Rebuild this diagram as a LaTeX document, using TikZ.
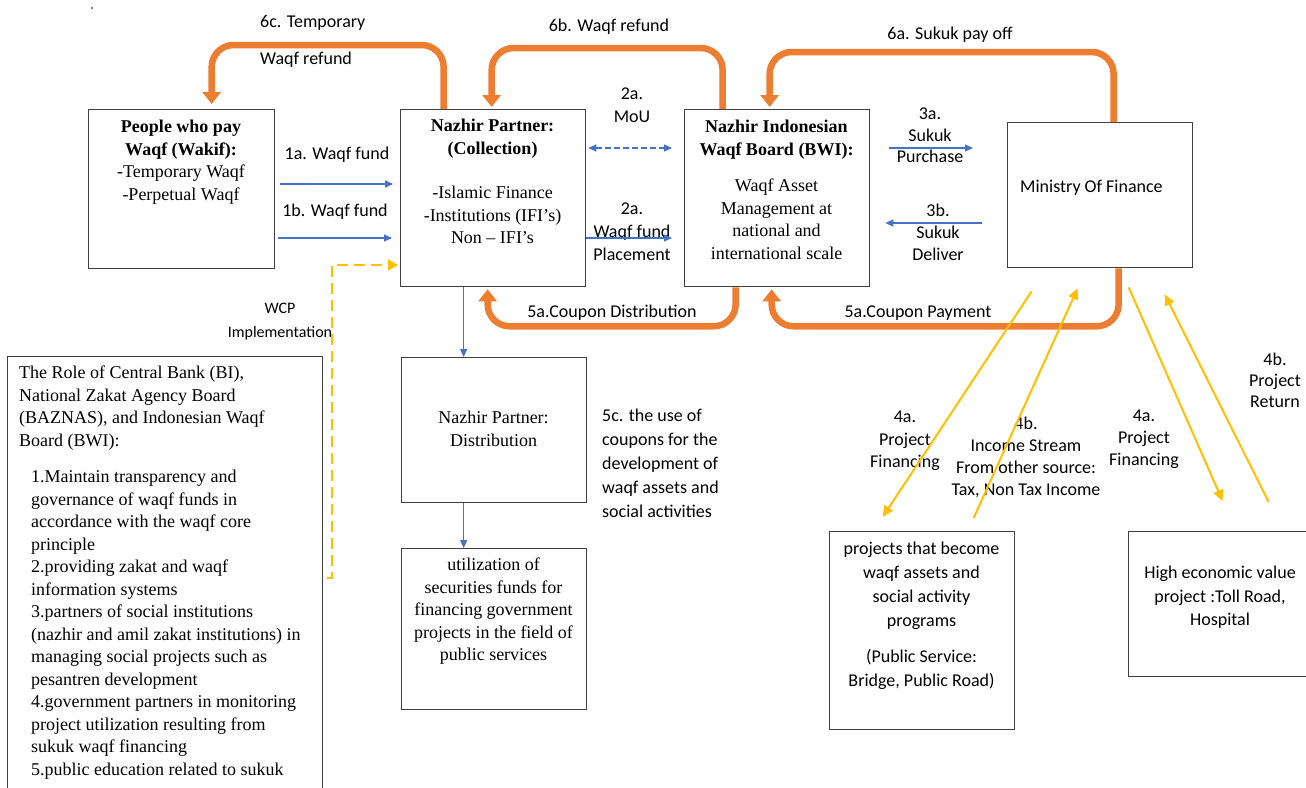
\documentclass[tikz,border=0pt]{standalone}
\usepackage{fontspec}
\setmainfont{Liberation Serif}
\newfontfamily\calibri{Carlito}
\usetikzlibrary{arrows.meta,calc}
\definecolor{worange}{HTML}{ED7D31}
\definecolor{wblue}{HTML}{4472C4}
\definecolor{wyellow}{HTML}{FFC000}
\begin{document}
\begin{tikzpicture}[x=1pt,y=-1pt,
  box/.style={draw=black!75,line width=1.3pt,inner sep=0pt,anchor=north west},
  tms/.style={font=\fontsize{18}{22.5}\selectfont, inner sep=0pt, anchor=north, align=center},
  cal/.style={font=\calibri\fontsize{18}{22.5}\selectfont, inner sep=0pt, anchor=north, align=center},
  calc1/.style={font=\calibri\fontsize{18}{22}\selectfont, inner sep=0pt, anchor=center},
  oarrow/.style={draw=worange, line width=6.5pt, rounded corners=22pt, -{Triangle[width=18pt,length=12pt]}},
  barrow/.style={draw=wblue, line width=1.1pt, -{Triangle[width=7pt,length=8pt]}},
  bdash/.style={draw=wblue, line width=1.1pt, dash pattern=on 6pt off 3pt, {Triangle[width=7pt,length=8pt]}-{Triangle[width=7pt,length=8pt]}},
  yarrow/.style={draw=wyellow, line width=2pt, -{Triangle[width=10pt,length=11pt]}},
  ydash/.style={draw=wyellow, line width=2.8pt, dash pattern=on 11pt off 6pt, -{Triangle[width=11pt,length=10pt]}},
]
\useasboundingbox (0,0) rectangle (1306,787);
\fill[white] (0,0) rectangle (1306,787);
\clip (0,0) rectangle (1306,787);
\fill (92,8) circle (0.8);

% boxes
\node[box, minimum width=186pt, minimum height=159pt] (wakif) at (88,109) {};
\node[box, minimum width=185pt, minimum height=177pt] (coll) at (400,109) {};
\node[box, minimum width=185pt, minimum height=177pt] (bwi) at (684,109) {};
\node[box, minimum width=185pt, minimum height=145pt] (minis) at (1007,122) {};
\node[box, minimum width=185pt, minimum height=145pt] (dist) at (401,357) {};
\node[box, minimum width=185pt, minimum height=161pt] (util) at (401,548) {};
\node[box, minimum width=315pt, minimum height=440pt] (role) at (7,356) {};
\node[box, minimum width=185pt, minimum height=198pt] (proj) at (829,531) {};
\node[box, minimum width=185pt, minimum height=145pt] (high) at (1128,531) {};

% box texts
\node[tms] (wakiftxt) at (181,120) {\textbf{People who pay}\\\textbf{Waqf (Wakif):}\\-Temporary Waqf\\-Perpetual Waqf};
\node[tms] (colltxt) at (492.5,119) {\textbf{Nazhir Partner:}\\\textbf{(Collection)}\\[22pt]-Islamic Finance\\-Institutions (IFI’s)\\Non – IFI’s};
\node[tms] (bwitxt) at (776.5,120) {\textbf{Nazhir Indonesian}\\\textbf{Waqf Board (BWI):}\\[14pt]Waqf Asset\\Management at\\national and\\international scale};
\node[calc1, anchor=west] (ministxt) at (1020,188) {Ministry Of Finance};
\node[tms] (disttxt) at (493.5,411) {Nazhir Partner:\\Distribution};
\node[tms] (utiltxt) at (493.5,558) {utilization of\\securities funds for\\financing government\\projects in the field of\\public services};
\node[tms, anchor=north west, align=left] (roletitle) at (19,366) {The Role of Central Bank (BI),\\National Zakat Agency Board\\(BAZNAS), and Indonesian Waqf\\Board (BWI):};
\node[tms, anchor=north west, align=left] (rolelist) at (31,470) {1.Maintain transparency and\\governance of waqf funds in\\accordance with the waqf core\\principle\\2.providing zakat and waqf\\information systems\\3.partners of social institutions\\(nazhir and amil zakat institutions) in\\managing social projects such as\\pesantren development\\4.government partners in monitoring\\project utilization resulting from\\sukuk waqf financing\\5.public education related to sukuk};
\node[cal, font=\calibri\fontsize{18}{24}\selectfont] (projtxt) at (921.5,542) {projects that become\\waqf assets and\\social activity\\programs\\[12pt](Public Service:\\Bridge, Public Road)};
\node[cal, font=\calibri\fontsize{18}{23.5}\selectfont] (hightxt) at (1220,566) {High economic value\\project :Toll Road,\\Hospital};

% labels
\node[cal, anchor=north west, align=left, font=\calibri\fontsize{18}{37}\selectfont] (l6c) at (260,15) {6c. Temporary\\Waqf refund};
\node[calc1] (l6b) at (609,27) {6b. Waqf refund};
\node[calc1] (l6a) at (950,35) {6a. Sukuk pay off};
\node[cal, font=\calibri\fontsize{18}{23}\selectfont] (l2a) at (632,88) {2a.\\MoU};
\node[cal, font=\calibri\fontsize{18}{23}\selectfont] (l2b) at (632,203) {2a.\\Waqf fund\\Placement};
\node[calc1] (l1a) at (337,155) {1a. Waqf fund};
\node[calc1] (l1b) at (335,212) {1b. Waqf fund};
\node[cal, font=\calibri\fontsize{18}{21.5}\selectfont] (l3a) at (930,108) {3a.\\Sukuk\\Purchase};
\node[cal, font=\calibri\fontsize{18}{22}\selectfont] (l3b) at (938,204) {3b.\\Sukuk\\Deliver};
\node[cal, font=\calibri\fontsize{16}{24}\selectfont] (lwcp) at (280,303) {WCP\\Implementation};
\node[calc1] (l5a) at (612,313) {5a.Coupon Distribution};
\node[calc1] (l5b) at (918,313) {5a.Coupon Payment};
\node[cal, anchor=north west, align=left, font=\calibri\fontsize{18}{24}\selectfont] (l5c) at (602,409) {5c. the use of\\coupons for the\\development of\\waqf assets and\\social activities};
\node[cal] (l4a) at (905,411) {4a.\\Project\\Financing};
\node[cal, font=\calibri\fontsize{18}{22}\selectfont] (l4b) at (1026,417) {4b.\\Income Stream\\From other source:\\Tax, Non Tax Income};
\node[cal, font=\calibri\fontsize{18}{22}\selectfont] (l4c) at (1144,410) {4a.\\Project\\Financing};
\node[cal, font=\calibri\fontsize{18}{21}\selectfont] (l4d) at (1275,353) {4b.\\Project\\Return};

% blue connectors
\draw[barrow] ($(wakif.north east)+(5,75)$) -- ($(coll.north west)+(-7,75)$);
\draw[barrow] ($(wakif.north east)+(3,129)$) -- ($(coll.north west)+(-8,129)$);
\draw[bdash] ($(coll.north east)+(2,39)$) -- ($(bwi.north west)+(-12,39)$);
\draw[barrow] ($(coll.north east)+(0,129)$) -- ($(bwi.north west)+(-12,129)$);
\draw[barrow] ($(bwi.north east)+(19,39)$) -- ($(minis.north west)+(-34,26)$);
\draw[barrow] ($(minis.north west)+(-25,101)$) -- ($(bwi.north east)+(15,114)$);
\draw[barrow] ([xshift=-29.5pt]coll.south) -- ([xshift=-30.5pt]dist.north);
\draw[barrow] ([xshift=-30.5pt]dist.south) -- ([xshift=-30.5pt]util.north);

% orange connectors
\draw[oarrow] ([xshift=-49.5pt]coll.north) -- ++(0,-64) -| ([xshift=30pt,yshift=5pt]wakif.north);
\draw[oarrow] ([xshift=-54.5pt]bwi.north) -- ++(0,-61) -| ([xshift=-1.5pt,yshift=2pt]coll.north);
\draw[oarrow] ([xshift=13.5pt]minis.north) -- ++(0,-70) -| ([xshift=-7.5pt,yshift=2pt]bwi.north);
\draw[oarrow] ([xshift=-41.5pt]bwi.south) -- ++(0,39) -| ([xshift=-5.5pt,yshift=-2pt]coll.south);
\draw[oarrow] ([xshift=18.5pt]minis.south) -- ++(0,58) -| ([xshift=-5.5pt,yshift=-2pt]bwi.south);

% yellow connectors
\draw[yarrow] ([shift={(-68.5pt,-23pt)}]minis.south) -- ([shift={(-39.5pt,14pt)}]proj.north);
\draw[yarrow] ([shift={(51.5pt,13pt)}]proj.north) -- ([shift={(-22.5pt,-20pt)}]minis.south);
\draw[yarrow] ([shift={(28.5pt,-19pt)}]minis.south) -- ([shift={(1.5pt,30pt)}]high.north);
\draw[yarrow] ([shift={(47.5pt,29pt)}]high.north) -- ([shift={(64.5pt,-26pt)}]minis.south);

% WCP dashed connector
\coordinate (wcp) at (327,578);
\draw[ydash] (wcp) -- ++(5,0) |- ($(coll.north west)+(-2,156)$);
\end{tikzpicture}
\end{document}
